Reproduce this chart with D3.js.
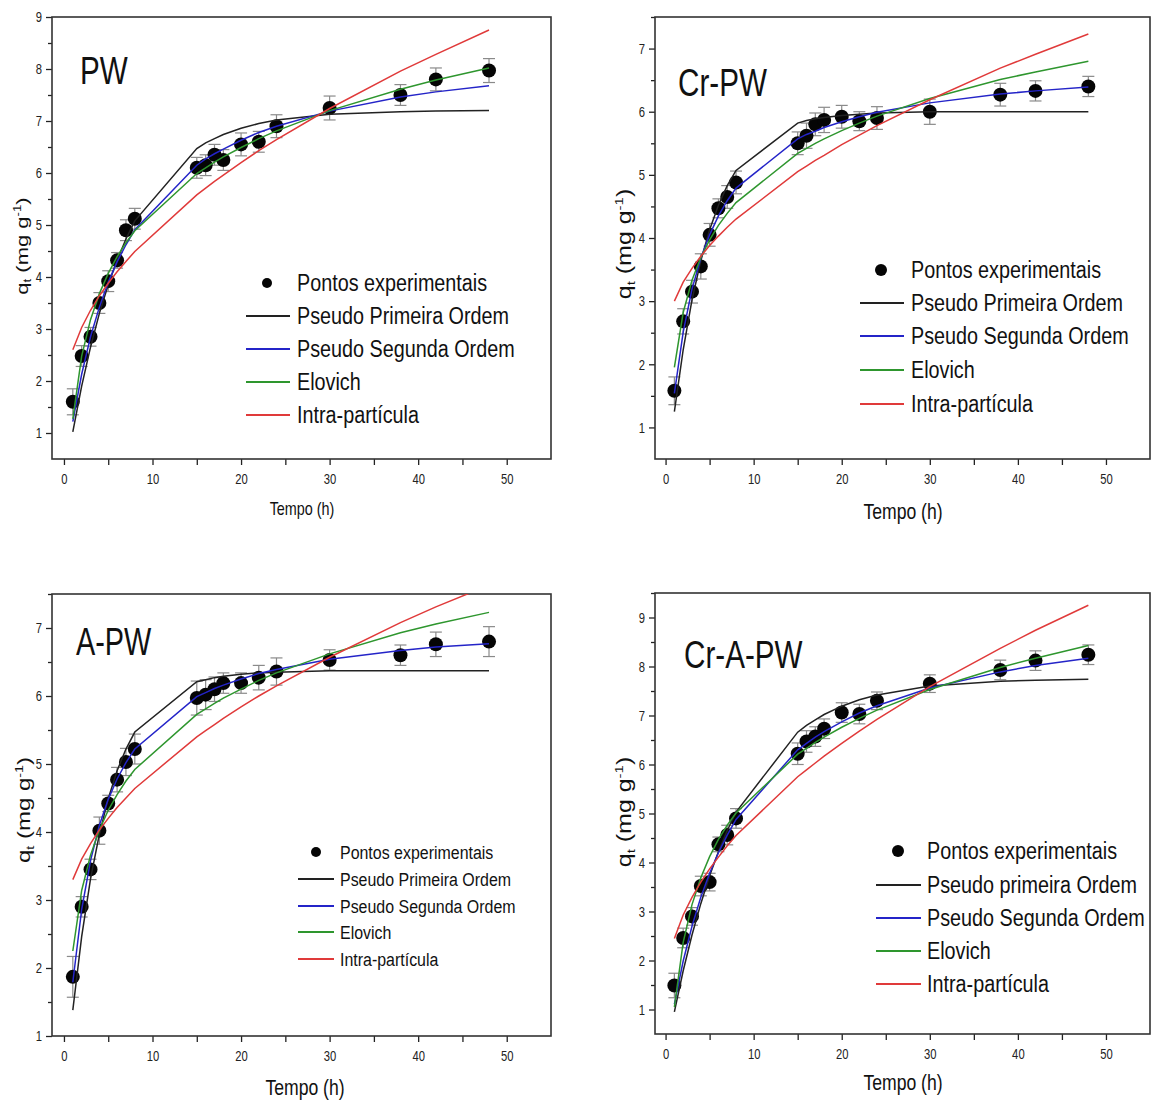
<!DOCTYPE html>
<html><head><meta charset="utf-8">
<script src="https://cdn.jsdelivr.net/npm/d3@7"></script>
<style>body{margin:0;background:#fff}svg{display:block}</style>
</head><body><svg id="chart" width="1158" height="1104"></svg>
<script>
// ---------- DATA ----------
const time = [1,2,3,4,5,6,7,8,15,16,17,18,20,22,24,30,38,42,48];
const xTickValues = [0,10,20,30,40,50];
const legendNames = ["Pontos experimentais","Pseudo Primeira Ordem","Pseudo Segunda Ordem","Elovich","Intra-partícula"];
const legendNamesCrAPW = ["Pontos experimentais","Pseudo primeira Ordem","Pseudo Segunda Ordem","Elovich","Intra-partícula"];
const panelTitles = ["PW","Cr-PW","A-PW","Cr-A-PW"];

// PW
const pwYTicks = [1,2,3,4,5,6,7,8,9];
const pwExp = [1.6,2.48,2.85,3.5,3.92,4.32,4.9,5.12,6.1,6.15,6.35,6.25,6.55,6.6,6.9,7.25,7.5,7.8,7.97];
const pwErr = [0.25,0.2,0.18,0.2,0.2,0.15,0.2,0.2,0.2,0.2,0.2,0.2,0.22,0.2,0.22,0.23,0.2,0.22,0.23];
const pwPFO = [1.02,1.9,2.65,3.3,3.85,4.32,4.73,5.08,6.47,6.58,6.66,6.74,6.86,6.95,7.02,7.13,7.18,7.19,7.2];
const pwPSO = [1.22,2.13,2.85,3.42,3.9,4.29,4.62,4.91,6.15,6.27,6.37,6.46,6.63,6.78,6.9,7.19,7.46,7.56,7.68];
const pwElo = [1.27,2.48,3.18,3.68,4.07,4.39,4.66,4.89,5.99,6.1,6.21,6.31,6.49,6.66,6.81,7.2,7.61,7.79,8.02];
const pwIPD = [2.6,3.03,3.36,3.64,3.88,4.1,4.3,4.49,5.58,5.71,5.84,5.96,6.2,6.43,6.64,7.24,7.96,8.28,8.75];

// Cr-PW
const crpwYTicks = [1,2,3,4,5,6,7];
const crpwExp = [1.58,2.68,3.15,3.55,4.05,4.47,4.65,4.88,5.5,5.62,5.8,5.87,5.92,5.85,5.9,6.0,6.27,6.33,6.4];
const crpwErr = [0.22,0.2,0.18,0.2,0.18,0.15,0.18,0.18,0.18,0.2,0.18,0.2,0.18,0.15,0.18,0.2,0.18,0.16,0.16];
const crpwPFO = [1.25,2.23,3.02,3.64,4.13,4.52,4.83,5.07,5.82,5.86,5.89,5.91,5.94,5.96,5.98,6.0,6.0,6.0,6.0];
const crpwPSO = [1.54,2.51,3.19,3.68,4.05,4.35,4.59,4.79,5.57,5.64,5.69,5.75,5.84,5.92,5.99,6.14,6.28,6.33,6.39];
const crpwElo = [1.95,2.82,3.33,3.69,3.97,4.2,4.39,4.56,5.34,5.42,5.5,5.57,5.7,5.82,5.93,6.21,6.51,6.63,6.8];
const crpwIPD = [3.0,3.3,3.52,3.71,3.88,4.03,4.17,4.3,5.05,5.14,5.23,5.31,5.48,5.63,5.78,6.19,6.69,6.91,7.23];

// A-PW
const apwYTicks = [1,2,3,4,5,6,7];
const apwExp = [1.87,2.9,3.45,4.02,4.42,4.77,5.03,5.22,5.97,6.02,6.1,6.19,6.19,6.27,6.36,6.53,6.6,6.76,6.8];
const apwErr = [0.3,0.15,0.15,0.2,0.12,0.18,0.2,0.22,0.25,0.22,0.18,0.15,0.15,0.18,0.2,0.15,0.15,0.18,0.22];
const apwPFO = [1.38,2.46,3.31,3.97,4.49,4.9,5.22,5.47,6.21,6.24,6.27,6.29,6.32,6.34,6.35,6.37,6.37,6.37,6.37];
const apwPSO = [1.79,2.86,3.58,4.1,4.48,4.78,5.02,5.22,5.99,6.05,6.11,6.16,6.25,6.33,6.39,6.54,6.67,6.72,6.77];
const apwElo = [2.25,3.14,3.66,4.03,4.32,4.55,4.75,4.92,5.73,5.81,5.89,5.97,6.1,6.23,6.34,6.62,6.93,7.06,7.23];
const apwIPD = [3.3,3.6,3.83,4.03,4.2,4.36,4.5,4.64,5.4,5.49,5.58,5.67,5.84,6.0,6.15,6.57,7.08,7.31,7.63];

// Cr-A-PW
const crapwYTicks = [1,2,3,4,5,6,7,8,9];
const crapwExp = [1.49,2.46,2.9,3.52,3.6,4.37,4.56,4.9,6.22,6.47,6.57,6.73,7.06,7.03,7.3,7.65,7.93,8.12,8.24];
const crapwErr = [0.25,0.2,0.18,0.2,0.18,0.15,0.2,0.2,0.22,0.22,0.2,0.2,0.2,0.2,0.18,0.18,0.2,0.2,0.2];
const crapwPFO = [0.95,1.79,2.52,3.16,3.73,4.22,4.65,5.03,6.66,6.8,6.91,7.02,7.19,7.32,7.42,7.6,7.7,7.72,7.74];
const crapwPSO = [1.11,1.99,2.7,3.29,3.78,4.2,4.56,4.88,6.3,6.43,6.56,6.67,6.87,7.05,7.2,7.56,7.89,8.02,8.17];
const crapwElo = [1.05,2.37,3.14,3.69,4.12,4.47,4.76,5.01,6.21,6.33,6.45,6.56,6.76,6.94,7.11,7.53,7.98,8.17,8.43];
const crapwIPD = [2.45,2.93,3.29,3.6,3.87,4.11,4.34,4.55,5.75,5.89,6.03,6.17,6.43,6.68,6.92,7.59,8.37,8.74,9.25];

// ---------- STYLE / LAYOUT ----------
const FONT = "'Liberation Sans', Arial, sans-serif";
const modelColors = ["#222222","#2424c8","#2e962e","#e03a3a"];
const svg = d3.select("#chart");

function txt(g, x, y, s, size, sx, anchor) {
  return g.append("text")
    .attr("transform", `translate(${x},${y}) scale(${sx},1)`)
    .attr("font-family", FONT).attr("font-size", size)
    .attr("text-anchor", anchor || "start").attr("fill", "#111").text(s);
}

const panels = [
  { id:"pw", title:panelTitles[0], names:legendNames, exp:pwExp, err:pwErr, models:[pwPFO,pwPSO,pwElo,pwIPD], yTicks:pwYTicks,
    box:{l:52,t:17,r:551,b:459}, xDom:[-1.35,55], yDom:[0.5,9],
    titlePos:[80,84,39], leg:{dotX:267,dotR:5,lx1:246,lx2:290,tx:297,rows:[283,316,349,382,415],fs:23,sx:0.86},
    ylab:{x:28,y:246,fs:22}, xlab:{x:302,y:515,fs:18} },
  { id:"crpw", title:panelTitles[1], names:legendNames, exp:crpwExp, err:crpwErr, models:[crpwPFO,crpwPSO,crpwElo,crpwIPD], yTicks:crpwYTicks,
    box:{l:655,t:17,r:1150,b:459}, xDom:[-1.2,55], yDom:[0.5,7.5],
    titlePos:[678,96,39], leg:{dotX:881,dotR:6,lx1:860,lx2:904,tx:911,rows:[270,303,336,370,404],fs:23,sx:0.86},
    ylab:{x:631,y:244,fs:25}, xlab:{x:903,y:519,fs:22} },
  { id:"apw", title:panelTitles[2], names:legendNames, exp:apwExp, err:apwErr, models:[apwPFO,apwPSO,apwElo,apwIPD], yTicks:apwYTicks,
    box:{l:52,t:594,r:551,b:1036}, xDom:[-1.35,55], yDom:[1,7.5],
    titlePos:[76,655,38], leg:{dotX:316,dotR:5,lx1:298,lx2:334,tx:340,rows:[852,879,906,932,959],fs:19,sx:0.84},
    ylab:{x:30,y:810,fs:24}, xlab:{x:305,y:1095,fs:22} },
  { id:"crapw", title:panelTitles[3], names:legendNamesCrAPW, exp:crapwExp, err:crapwErr, models:[crapwPFO,crapwPSO,crapwElo,crapwIPD], yTicks:crapwYTicks,
    box:{l:655,t:593,r:1150,b:1034}, xDom:[-1.2,55], yDom:[0.5,9.5],
    titlePos:[684,668,39], leg:{dotX:898,dotR:6,lx1:876,lx2:921,tx:927,rows:[851,885,918,951,984],fs:23,sx:0.86},
    ylab:{x:631,y:812,fs:25}, xlab:{x:903,y:1090,fs:22} }
];

panels.forEach(p => {
  const g = svg.append("g");
  const x = d3.scaleLinear().domain(p.xDom).range([p.box.l, p.box.r]);
  const y = d3.scaleLinear().domain(p.yDom).range([p.box.b, p.box.t]);

  g.append("clipPath").attr("id","clip-"+p.id).append("rect")
    .attr("x",p.box.l).attr("y",p.box.t).attr("width",p.box.r-p.box.l).attr("height",p.box.b-p.box.t);

  // x axis
  const xMinor = d3.range(0, 55, 5);
  const xa = g.append("g").attr("transform",`translate(0,${p.box.b})`)
    .call(d3.axisBottom(x).tickValues(xMinor).tickSize(6).tickPadding(8)
      .tickFormat(d => xTickValues.includes(d) ? d : ""));
  xa.select(".domain").remove();
  xa.selectAll("line").attr("stroke","#222").attr("stroke-width",1.3);
  xa.selectAll("text").attr("font-family",FONT).attr("font-size",15).attr("fill","#222")
    .attr("transform","scale(0.75,1)");

  // y axis
  const yMinor = d3.range(Math.ceil(p.yDom[0]*2)/2, p.yDom[1]+0.001, 0.5).filter(v => v > p.yDom[0]+0.01 || v === p.yTicks[0]);
  const ya = g.append("g").attr("transform",`translate(${p.box.l},0)`)
    .call(d3.axisLeft(y).tickValues(yMinor).tickSize(6).tickPadding(4)
      .tickFormat(d => p.yTicks.includes(d) ? d : ""));
  ya.select(".domain").remove();
  ya.selectAll("line").attr("stroke","#222").attr("stroke-width",1.3);
  ya.selectAll(".tick").filter(d => !p.yTicks.includes(d)).select("line").attr("x2",-4);
  ya.selectAll("text").attr("font-family",FONT).attr("font-size",15).attr("fill","#222")
    .attr("x",-10/0.75).attr("transform","scale(0.75,1)");

  // frame
  g.append("rect").attr("x",p.box.l).attr("y",p.box.t).attr("width",p.box.r-p.box.l).attr("height",p.box.b-p.box.t)
    .attr("fill","none").attr("stroke","#333").attr("stroke-width",1.6);

  // error bars
  const eg = g.append("g").attr("stroke","#8a8a8a").attr("stroke-width",1.2);
  time.forEach((t,i) => {
    const cx = x(t), y1 = y(p.exp[i]-p.err[i]), y2 = y(p.exp[i]+p.err[i]);
    eg.append("line").attr("x1",cx).attr("x2",cx).attr("y1",y1).attr("y2",y2);
    eg.append("line").attr("x1",cx-6).attr("x2",cx+6).attr("y1",y1).attr("y2",y1);
    eg.append("line").attr("x1",cx-6).attr("x2",cx+6).attr("y1",y2).attr("y2",y2);
  });

  // points
  g.append("g").selectAll("circle").data(p.exp).join("circle")
    .attr("cx",(d,i)=>x(time[i])).attr("cy",d=>y(d)).attr("r",7).attr("fill","#050505");

  // model lines
  const line = d3.line().x((d,i)=>x(time[i])).y(d=>y(d));
  const lg = g.append("g").attr("clip-path",`url(#clip-${p.id})`);
  p.models.forEach((m,k) => {
    lg.append("path").attr("d",line(m)).attr("fill","none")
      .attr("stroke",modelColors[k]).attr("stroke-width",1.5);
  });

  // title
  txt(g, p.titlePos[0], p.titlePos[1], p.title, p.titlePos[2], 0.76, "start");

  // legend
  const L = p.leg;
  g.append("circle").attr("cx",L.dotX).attr("cy",L.rows[0]).attr("r",L.dotR).attr("fill","#050505");
  p.names.forEach((n,k) => {
    if (k > 0) {
      g.append("line").attr("x1",L.lx1).attr("x2",L.lx2).attr("y1",L.rows[k]).attr("y2",L.rows[k])
        .attr("stroke",modelColors[k-1]).attr("stroke-width",2);
    }
    txt(g, L.tx, L.rows[k] + L.fs*0.36, n, L.fs, L.sx, "start");
  });

  // y label
  const yl = g.append("text")
    .attr("transform",`translate(${p.ylab.x},${p.ylab.y}) scale(0.78,1) rotate(-90)`)
    .attr("font-family",FONT).attr("font-size",p.ylab.fs).attr("text-anchor","middle").attr("fill","#111");
  yl.append("tspan").text("q");
  yl.append("tspan").attr("font-size",p.ylab.fs*0.6).attr("dy",p.ylab.fs*0.2).text("t");
  yl.append("tspan").attr("dy",-p.ylab.fs*0.2).text(" (mg g");
  yl.append("tspan").attr("font-size",p.ylab.fs*0.6).attr("dy",-p.ylab.fs*0.4).text("-1");
  yl.append("tspan").attr("dy",p.ylab.fs*0.4).text(")");

  // x label
  txt(g, p.xlab.x, p.xlab.y, "Tempo (h)", p.xlab.fs, 0.8, "middle");
});
</script>
</body></html>
